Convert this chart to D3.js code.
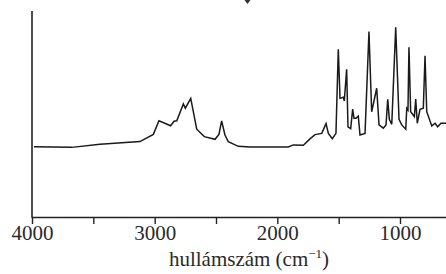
<!DOCTYPE html>
<html lang="hu">
<head>
  <meta charset="UTF-8">
  <title>IR spektrum</title>
  <script src="https://d3js.org/d3.v7.min.js"></script>
  <style>
    body { margin: 0; background: #fff; }
    svg { display: block; }
  </style>
</head>
<body>
  <svg width="446" height="274"></svg>

  <script>
    // wavenumbers (cm-1)
    const wavenumbers = [3984, 3676, 3446, 3120, 3011, 2965, 2870, 2842, 2820, 2766,
      2750, 2706, 2657, 2595, 2508, 2476, 2454, 2427, 2400, 2318,
      2223, 1911, 1870, 1788, 1734, 1693, 1638, 1603, 1584, 1552,
      1522, 1503, 1489, 1462, 1454, 1435, 1424, 1402, 1386, 1375,
      1359, 1340, 1326, 1285, 1253, 1231, 1190, 1171, 1136, 1114,
      1100, 1087, 1067, 1035, 1008, 986, 953, 945, 935, 927,
      913, 883, 872, 859, 837, 810, 796, 782, 741, 714,
      693, 666, 625, 600];
    // signal (arbitrary units 0-100)
    const signal = [34.1, 33.8, 35.3, 36.6, 40.1, 46.7, 44.3, 46.5, 46.7, 54.9,
      52.8, 57.6, 42.6, 39.0, 37.7, 40.1, 46.7, 39.8, 36.6, 34.3,
      34.0, 34.0, 35.0, 34.8, 37.9, 40.0, 40.6, 45.3, 40.6, 38.0,
      40.6, 81.4, 57.6, 58.1, 56.3, 71.7, 43.8, 42.9, 52.4, 47.9,
      47.9, 49.0, 39.8, 40.6, 90.0, 51.1, 62.5, 44.7, 43.1, 44.7,
      57.1, 47.4, 45.0, 92.1, 47.4, 44.7, 42.6, 52.8, 51.9, 82.4,
      51.1, 48.7, 57.3, 45.5, 52.3, 52.8, 78.3, 51.1, 44.2, 45.5,
      43.8, 45.5, 45.5, 45.5];
    const tickValues = [4000, 3500, 3000, 2500, 2000, 1500, 1000, 500];
    const labeledTicks = [4000, 3000, 2000, 1000];

    const serif = "Liberation Serif, DejaVu Serif, serif";
    const svg = d3.select("svg");
    const data = wavenumbers.map((w, i) => ({ w: w, v: signal[i] }));

    const x = d3.scaleLinear().domain([4000, 400]).range([32, 473.6]);
    const y = d3.scaleLinear().domain([0, 100]).range([217, 11]);

    // x axis
    const xAxis = svg.append("g")
      .attr("transform", "translate(0,217)")
      .call(d3.axisBottom(x)
        .tickValues(tickValues)
        .tickSize(7)
        .tickSizeOuter(0)
        .tickFormat(d => labeledTicks.includes(d) ? d : ""));
    xAxis.attr("font-family", null).attr("font-size", null);
    xAxis.select(".domain").attr("stroke", "#222").attr("stroke-width", 1.6);
    xAxis.selectAll(".tick line").attr("stroke", "#222").attr("stroke-width", 1.4);
    xAxis.selectAll(".tick text")
      .style("font-family", serif)
      .style("font-size", "21px")
      .attr("fill", "#2a2a2a")
      .attr("y", 8)
      .attr("dy", "0.72em");

    // y axis line (no ticks)
    svg.append("line")
      .attr("x1", 32).attr("x2", 32)
      .attr("y1", y(100)).attr("y2", 217.8)
      .attr("stroke", "#222").attr("stroke-width", 1.6);

    // spectrum
    svg.append("path")
      .datum(data)
      .attr("fill", "none")
      .attr("stroke", "#1a1a1a")
      .attr("stroke-width", 1.5)
      .attr("stroke-linejoin", "miter")
      .attr("d", d3.line().x(d => x(d.w)).y(d => y(d.v)));

    // axis label
    const lab = svg.append("text")
      .attr("x", 249)
      .attr("y", 266)
      .attr("text-anchor", "middle")
      .style("font-family", serif)
      .style("font-size", "21px")
      .attr("fill", "#2a2a2a");
    lab.append("tspan").text("hullámszám (cm");
    lab.append("tspan").attr("dy", -8).style("font-size", "13px").text("\u22121");
    lab.append("tspan").attr("dy", 8).text(")");

    // small arrow tip cut off at the top edge
    svg.append("path")
      .attr("d", "M244.5,0 L250.5,0 L247.5,4 Z")
      .attr("fill", "#333");
  </script>
</body>
</html>
